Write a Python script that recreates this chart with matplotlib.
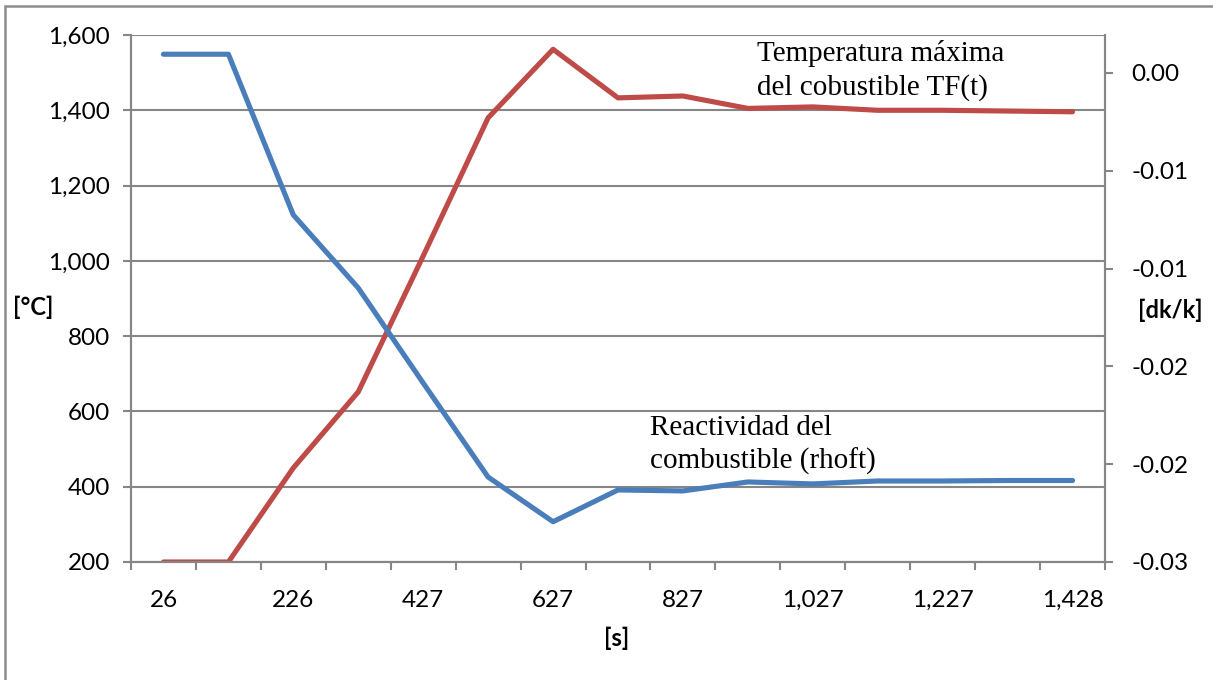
import matplotlib
matplotlib.use("Agg")
import numpy as np
from matplotlib import pyplot as plt
from matplotlib.patches import Rectangle
from matplotlib.ticker import FixedLocator, FuncFormatter

# time categories [s]
tiempos = [26, 126, 226, 327, 427, 527, 627, 727, 827, 927, 1027, 1127, 1227, 1327, 1428]
# maximum fuel temperature [°C] (left axis)
temp_max = [200, 200, 450, 652, 1013, 1380, 1562, 1433, 1438, 1405, 1409, 1400, 1400, 1398, 1396]
# fuel reactivity [dk/k] (right axis)
rhoft = [0.00115, 0.00115, -0.00871, -0.01319, -0.01902, -0.02479, -0.02753, -0.02558,
         -0.02564, -0.02509, -0.02521, -0.02503, -0.02503, -0.02500, -0.02500]

W, H = 1213, 680
plt.rcParams['font.family'] = ['Lato', 'DejaVu Sans']
plt.rcParams['font.size'] = 17

gris = '#868686'
azul = '#4A7EBB'
rojo = '#BE4B48'

fig = plt.figure(figsize=(W / 100, H / 100), dpi=100)
ax = fig.add_axes([131 / W, 1 - 562 / H, (1105 - 131) / W, (562 - 35) / H])
ax2 = ax.twinx()

x = np.arange(len(tiempos))
ax.plot(x, temp_max, color=rojo, linewidth=3.7, solid_joinstyle='round', solid_capstyle='round')
ax2.plot(x, rhoft, color=azul, linewidth=3.7, solid_joinstyle='round', solid_capstyle='round')

# left axis
ax.set_ylim(200, 1600)
ax.set_yticks(np.arange(200, 1601, 200))
ax.yaxis.set_major_formatter(FuncFormatter(lambda v, p: f"{v:,.0f}"))
ax.grid(True, axis='y', color=gris, linewidth=1.5)
ax.set_axisbelow(True)

# x axis: tick marks between categories, labels every other category
ax.set_xlim(-0.5, len(tiempos) - 0.5)
ax.xaxis.set_major_locator(FixedLocator(np.arange(-0.5, len(tiempos), 1.0)))
ax.xaxis.set_major_formatter(FuncFormatter(lambda v, p: ""))
ax.xaxis.set_minor_locator(FixedLocator(x[::2]))
ax.xaxis.set_minor_formatter(FuncFormatter(lambda v, p: f"{tiempos[int(round(v))]:,}"))
ax.tick_params(axis='x', which='major', length=6, width=1.5, color=gris, direction='out')
ax.tick_params(axis='x', which='minor', length=0, pad=20, labelsize=17.5)
ax.tick_params(axis='y', length=6, width=1.5, color=gris, pad=9, labelsize=17.5)

# right axis
ax2.set_ylim(-0.03, 0.00233)
ax2.set_yticks(np.linspace(-0.03, 0.0, 6))
ax2.yaxis.set_major_formatter(FuncFormatter(lambda v, p: f"{round(v, 2) + 0.0:.2f}"))
ax2.tick_params(axis='y', length=6, width=1.5, color=gris, pad=13, labelsize=17.5)

for a in (ax, ax2):
    for s in a.spines.values():
        s.set_color(gris)
        s.set_linewidth(1.5)
    a.spines['top'].set_visible(False)

# axis titles
fig.text(33 / W, 1 - 307 / H, "[°C]", ha='center', va='center', fontsize=17, fontweight='bold')
fig.text(1170 / W, 1 - 310 / H, "[dk/k]", ha='center', va='center', fontsize=17, fontweight='bold')
fig.text(617 / W, 1 - 638 / H, "[s]", ha='center', va='center', fontsize=17, fontweight='bold')

# series annotations
fig.text(757 / W, 1 - 40 / H, "Temperatura máxima\ndel cobustible TF(t)", ha='left', va='top',
         fontsize=21, family='Liberation Serif', linespacing=1.36)
fig.text(650 / W, 1 - 415 / H, "Reactividad del\ncombustible (rhoft)", ha='left', va='top',
         fontsize=21, family='Liberation Serif', linespacing=1.32)

# outer chart border
fig.add_artist(Rectangle((5 / W, -0.1), 1.2, 1.1 - 6 / H, transform=fig.transFigure,
                         fill=False, edgecolor='#8C8C8C', linewidth=1.8, clip_on=False))

fig.savefig("out.png", dpi=100)
